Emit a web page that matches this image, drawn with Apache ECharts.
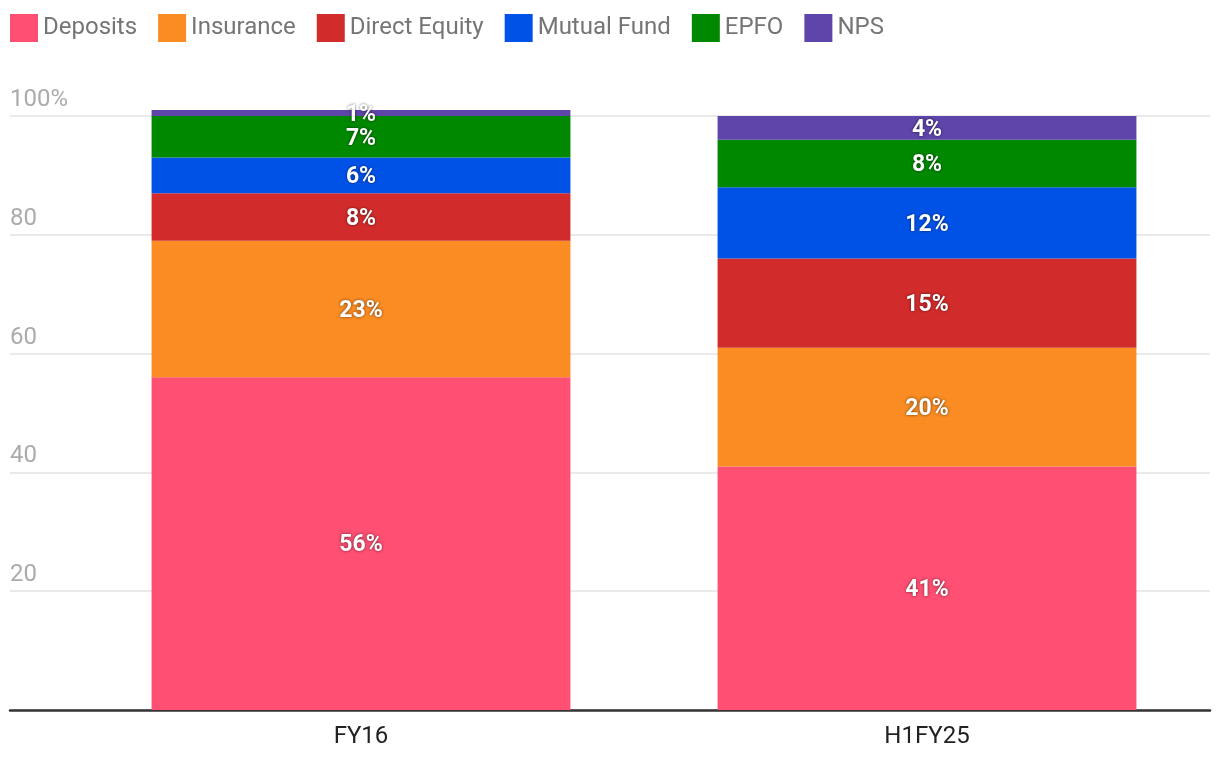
<!DOCTYPE html>
<html>
<head>
<meta charset="utf-8">
<script src="https://cdn.jsdelivr.net/npm/echarts@6/dist/echarts.min.js"></script>
<style>
html,body{margin:0;padding:0;background:#fff;}
#chart{width:1220px;height:766px;}
</style>
</head>
<body>
<div id="chart"></div>
<script>
const categories = ['FY16', 'H1FY25'];
const seriesNames = ['Deposits', 'Insurance', 'Direct Equity', 'Mutual Fund', 'EPFO', 'NPS'];
const deposits = [56, 41];
const insurance = [23, 20];
const directEquity = [8, 15];
const mutualFund = [6, 12];
const epfo = [7, 8];
const nps = [1, 4];
const yTicks = [0, 20, 40, 60, 80, 100];

const colors = ['#FF4F73', '#FA8C23', '#D22B2B', '#0052E7', '#008800', '#5D45AA'];
const values = [deposits, insurance, directEquity, mutualFund, epfo, nps];

const chart = echarts.init(document.getElementById('chart'));
const option = {
  animation: false,
  textStyle: { fontFamily: 'Roboto' },
  legend: {
    left: 5, top: 9,
    itemWidth: 28, itemHeight: 28, itemGap: 21,
    icon: 'rect',
    textStyle: { fontSize: 24, color: '#757575', fontFamily: 'Roboto' },
    data: seriesNames
  },
  grid: [
    { left: 10, right: 10, top: 116, bottom: 56 },
    { left: 78, right: 10, top: 116, bottom: 56 }
  ],
  xAxis: [
    {
      gridIndex: 0, type: 'category', data: [''],
      axisLine: { show: true, lineStyle: { color: '#333', width: 2.5 } },
      axisTick: { show: false }, axisLabel: { show: false }
    },
    {
      gridIndex: 1, type: 'category', data: categories,
      axisLine: { show: false }, axisTick: { show: false },
      axisLabel: { fontSize: 24, color: '#222', margin: 15, fontFamily: 'Roboto' }
    }
  ],
  yAxis: [
    {
      gridIndex: 0, type: 'value', min: yTicks[0], max: yTicks[yTicks.length - 1], interval: 20,
      axisLine: { show: false }, axisTick: { show: false },
      splitLine: { lineStyle: { color: '#e3e3e3', width: 1.5 } },
      axisLabel: {
        inside: true, margin: 0, align: 'left', verticalAlign: 'bottom',
        padding: [0, 0, 4, 0],
        fontSize: 24, color: '#ababab', fontFamily: 'Roboto',
        formatter: v => v === 0 ? '' : (v === 100 ? '100%' : String(v))
      }
    },
    {
      gridIndex: 1, type: 'value', min: 0, max: 100, show: false,
      splitLine: { show: false }
    }
  ],
  series: seriesNames.map((name, i) => ({
    name, type: 'bar', stack: 'total',
    xAxisIndex: 1, yAxisIndex: 1,
    barWidth: '74%', clip: false,
    itemStyle: { color: colors[i] },
    label: {
      show: true, position: 'inside',
      formatter: p => p.value + '%',
      offset: [0, 2],
      color: '#fff', fontWeight: 'bold', fontSize: 23, fontFamily: 'Roboto',
      textShadowColor: 'rgba(0,0,0,0.6)', textShadowBlur: 3
    },
    data: values[i]
  }))
};
chart.setOption(option);
</script>
</body>
</html>
